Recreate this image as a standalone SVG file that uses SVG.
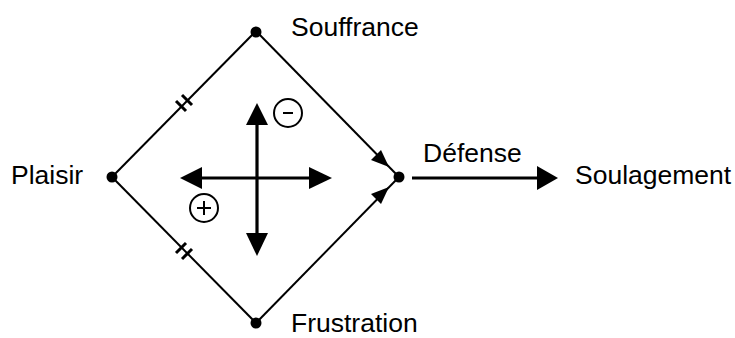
<svg xmlns="http://www.w3.org/2000/svg" width="735" height="338" viewBox="0 0 735 338">
<style>
text{font-family:"Liberation Sans",Arial,sans-serif;font-size:26.5px;fill:#000}
.e{stroke:#000;stroke-width:2;fill:none}
.t{stroke:#000;stroke-width:3;fill:none}
.b{stroke:#000;stroke-width:3.2;fill:none}
.h{fill:#000}
</style>
<rect width="735" height="338" fill="#fff"/>
<g id="connectors">
<line class="e" x1="112" y1="177" x2="256" y2="31"/>
<line class="e" x1="112" y1="177" x2="256" y2="323"/>
<line class="e" x1="256" y1="31" x2="399" y2="177"/>
<line class="e" x1="256" y1="323" x2="399" y2="177"/>
<polygon class="h" points="389,167 371,160 381,150"/>
<polygon class="h" points="389,187 381,204 371,194"/>
<line class="t" x1="176" y1="101" x2="186" y2="111"/>
<line class="t" x1="182" y1="95" x2="192" y2="105"/>
<line class="t" x1="176" y1="253" x2="186" y2="243"/>
<line class="t" x1="182" y1="259" x2="192" y2="249"/>
<line class="b" x1="257" y1="122" x2="257" y2="236"/>
<polygon class="h" points="257,103 246,125 268,125"/>
<polygon class="h" points="257,256 246,233 268,233"/>
<line class="b" x1="199" y1="178" x2="312" y2="178"/>
<polygon class="h" points="180,178 202,167 202,189"/>
<polygon class="h" points="332,178 309,167 309,189"/>
<line class="b" x1="412" y1="178" x2="540" y2="178"/>
<polygon class="h" points="558,178 537,166 537,190"/>
<circle cx="288" cy="113" r="14" class="e"/>
<line x1="283" y1="113" x2="293" y2="113" class="e"/>
<circle cx="204" cy="208" r="14" class="e"/>
<line x1="197" y1="208" x2="211" y2="208" class="e"/>
<line x1="204" y1="201" x2="204" y2="215" class="e"/>
</g>
<g id="souffrance"><circle cx="256" cy="32" r="5.5"/><text x="291" y="36">Souffrance</text></g>
<g id="plaisir"><circle cx="112" cy="177" r="5.5"/><text x="11" y="184">Plaisir</text></g>
<g id="frustration"><circle cx="256" cy="323" r="5.5"/><text x="291" y="332">Frustration</text></g>
<g id="defense"><circle cx="399" cy="177" r="5.5"/><text x="423" y="162">Défense</text></g>
<g id="soulagement"><text x="575" y="184">Soulagement</text></g>
</svg>
